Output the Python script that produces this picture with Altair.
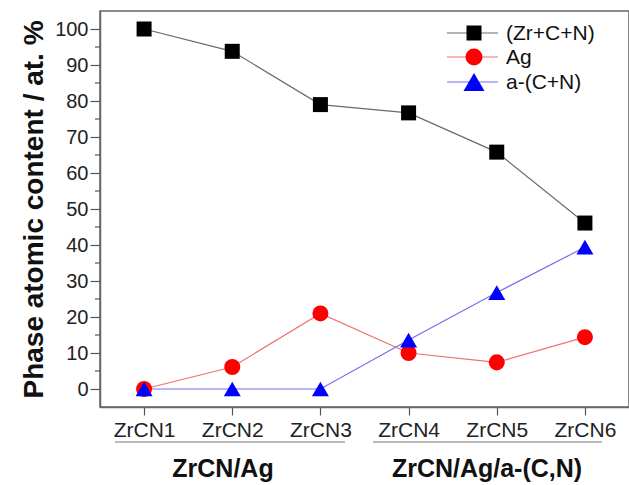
import altair as alt
import pandas as pd

samples = ["ZrCN1", "ZrCN2", "ZrCN3", "ZrCN4", "ZrCN5", "ZrCN6"]
series_names = ["(Zr+C+N)", "Ag", "a-(C+N)"]
zrcn_vals = [100, 93.8, 79, 76.7, 65.8, 46.1]
ag_vals = [0, 6.1, 21, 10, 7.4, 14.4]
acn_vals = [0, 0, 0, 13.6, 26.8, 39.4]
y_major = list(range(0, 101, 10))
y_minor = list(range(5, 100, 10))
groups = ["ZrCN/Ag", "ZrCN/Ag/a-(C,N)"]

marker_colors = ["#000000", "#ff0000", "#0000ff"]
line_colors = ["#6a6a6a", "#f07070", "#7070f0"]
shapes = ["square", "circle", "triangle-up"]
sizes = [225, 289, 441]

rows = []
for name, vals in zip(series_names, [zrcn_vals, ag_vals, acn_vals]):
    for s, v in zip(samples, vals):
        rows.append({"sample": s, "value": v, "series": name})
df = pd.DataFrame(rows)

FONT = "Liberation Sans"

x_axis = alt.Axis(title=None, labelFontSize=21, labelFont=FONT, labelColor="#222",
                  tickSize=8, tickColor="#555", tickWidth=1.2, labelPadding=4,
                  labelAngle=0, domainColor="#666", domainWidth=1.5, grid=False)
y_axis = alt.Axis(title="Phase atomic content / at. %", titleFontSize=28,
                  titleFont=FONT, titleFontWeight="bold", titleColor="#111",
                  titlePadding=6, values=y_major, labelOverlap=False,
                  tickSize=10, labelFontSize=20, labelFont=FONT, labelColor="#222",
                  labelPadding=2, tickColor="#555", tickWidth=1.2,
                  domainColor="#666", domainWidth=1.5, grid=False)
x_scale = alt.Scale(type="point", padding=0.5)
y_scale = alt.Scale(domain=[-5, 105], nice=False, zero=False)

base = alt.Chart(df)
lines = base.mark_line(strokeWidth=1.2).encode(
    x=alt.X("sample:N", sort=samples, scale=x_scale, axis=x_axis),
    y=alt.Y("value:Q", scale=y_scale, axis=y_axis),
    stroke=alt.Stroke("series:N", scale=alt.Scale(domain=series_names, range=line_colors), legend=None),
    detail="series:N",
)
points = base.mark_point(filled=True, opacity=1, strokeWidth=0).encode(
    x=alt.X("sample:N", sort=samples, scale=x_scale, axis=x_axis),
    y=alt.Y("value:Q", scale=y_scale, axis=y_axis),
    fill=alt.Fill("series:N", scale=alt.Scale(domain=series_names, range=marker_colors), legend=None),
    shape=alt.Shape("series:N", scale=alt.Scale(domain=series_names, range=shapes), legend=None),
    size=alt.Size("series:N", scale=alt.Scale(domain=series_names, range=sizes), legend=None),
)

# minor ticks on the y axis
mdf = pd.DataFrame({"v": y_minor})
minor = alt.Chart(mdf).mark_rule(color="#555", strokeWidth=1.2).encode(
    y=alt.Y("v:Q", scale=y_scale, axis=y_axis), x=alt.value(-5), x2=alt.value(0))

# manual legend
leg_y = [22, 46, 71]
leg_layers = []
for i, name in enumerate(series_names):
    ld = pd.DataFrame({"label": [name]})
    leg_layers.append(alt.Chart(ld).mark_rule(color=line_colors[i], strokeWidth=1.2).encode(
        x=alt.value(347), x2=alt.value(398), y=alt.value(leg_y[i])))
    leg_layers.append(alt.Chart(ld).mark_point(filled=True, opacity=1, shape=shapes[i],
                                               size=sizes[i], color=marker_colors[i]).encode(
        x=alt.value(374), y=alt.value(leg_y[i])))
    leg_layers.append(alt.Chart(ld).mark_text(align="left", baseline="middle", fontSize=21,
                                              font=FONT, color="#111").encode(
        x=alt.value(406), y=alt.value(leg_y[i] + 1), text="label:N"))

# group annotations below the axis
gdf = pd.DataFrame({"label": groups, "x": [123, 387], "x1": [15, 273], "x2": [245, 502]})
under = alt.Chart(gdf).mark_rule(color="#777", strokeWidth=1.2).encode(
    x=alt.X("x1:Q", scale=None), x2="x2:Q", y=alt.value(431))
glabels = alt.Chart(gdf).mark_text(align="center", baseline="middle", fontSize=25,
                                   fontWeight="bold", font=FONT, color="#111").encode(
    x=alt.X("x:Q", scale=None), y=alt.value(458), text="label:N")

chart = alt.layer(lines, points, minor, *leg_layers, under, glabels).properties(
    width=529, height=396,
    padding={"left": 100, "top": 11, "right": 0, "bottom": 78},
    autosize="none",
).configure_view(stroke="#666", strokeWidth=1.5)

chart.save("out.html", embed_options={"renderer": "svg", "actions": False})
